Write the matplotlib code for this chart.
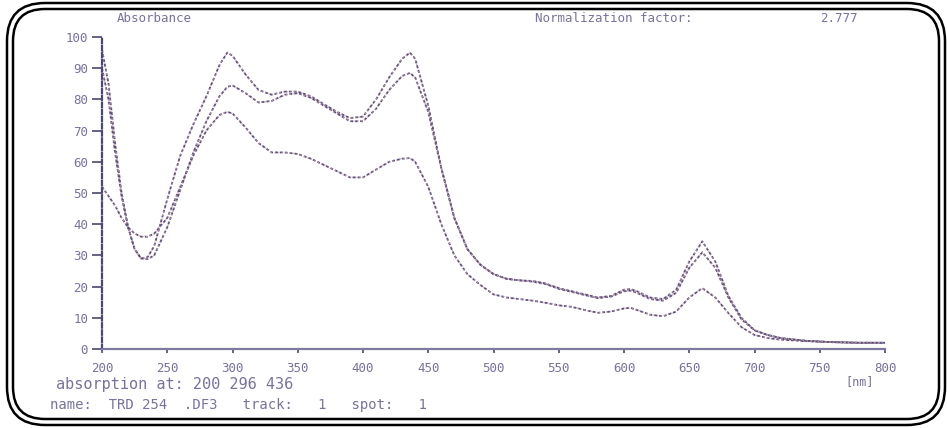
import matplotlib
matplotlib.use("Agg")
import matplotlib.pyplot as plt
from matplotlib.patches import FancyBboxPatch

# wavelength grid [nm]
wavelength = [200, 205, 210, 215, 220, 225, 230, 235, 240, 250, 260, 270, 280, 290,
              296, 300, 310, 320, 330, 340, 350, 360, 370, 380, 390, 400, 410, 420,
              430, 436, 440, 450, 460, 470, 480, 490, 500, 510, 520, 530, 540, 550,
              560, 570, 580, 590, 600, 605, 610, 620, 630, 640, 650, 660, 670, 680,
              690, 700, 710, 720, 740, 760, 780, 800]

track_a = [96, 85, 66, 50, 39, 32, 29, 29.5, 33, 48, 62, 72, 81, 91,
           95, 94, 88, 83, 81.5, 82.5, 82.5, 81, 78.5, 76, 74, 74.5, 80, 87,
           93, 95, 93, 78, 58, 42, 32, 27, 24, 22.5, 22, 21.8, 21, 19.5,
           18.5, 17.5, 16.5, 17, 19, 19.2, 18.5, 16.5, 16, 19, 28, 34.5, 28, 17,
           10, 6, 4.5, 3.5, 2.6, 2.2, 2, 2]

track_b = [90, 80, 63, 49, 39, 32, 29, 28.8, 30, 39, 51, 63, 73, 81,
           84, 84.5, 82, 79, 79.5, 81.5, 82, 80.5, 78, 75.5, 73, 73, 77, 83,
           87.5, 88.5, 87, 76, 58, 42, 32, 27, 24, 22.5, 22, 21.6, 20.8, 19.3,
           18.3, 17.3, 16.3, 16.8, 18.5, 18.7, 18, 16, 15.5, 18, 26, 31, 26, 16.5,
           9.5, 6, 4.5, 3.5, 2.6, 2.2, 2, 2]

track_c = [52, 49, 46, 42, 39, 37, 36, 36, 37, 42, 52, 62, 70, 75,
           76, 75.5, 71, 66, 63, 63, 62.5, 61, 59, 57, 55, 55, 57.5, 60,
           61, 61.2, 60, 52, 40, 30, 24, 20.5, 17.5, 16.5, 16, 15.5, 14.8, 14,
           13.5, 12.5, 11.6, 12, 13, 13.2, 12.5, 11, 10.5, 12, 16.5, 19.5, 16.5, 11.5,
           7, 4.5, 3.5, 3, 2.5, 2.2, 2, 2]

y_ticks = [0, 10, 20, 30, 40, 50, 60, 70, 80, 90, 100]
x_ticks = [200, 250, 300, 350, 400, 450, 500, 550, 600, 650, 700, 750, 800]

W, H = 947, 428
fig = plt.figure(figsize=(W / 100, H / 100), dpi=100)
fig.patch.set_facecolor("white")

txt = "#77739a"
mono = "DejaVu Sans Mono"

# spectrum axes
ax = fig.add_axes([102 / W, (H - 349) / H, 783 / W, 312 / H])
ax.set_xlim(200, 800)
ax.set_ylim(0, 100)
for spine in ("top", "right"):
    ax.spines[spine].set_visible(False)
ax.spines["left"].set_color("#4a4870")
ax.spines["left"].set_linestyle((0, (2, 1.2)))
ax.spines["left"].set_linewidth(1.6)
ax.spines["bottom"].set_color("#7d7aa0")
ax.spines["bottom"].set_linewidth(1.6)

ax.set_yticks(y_ticks)
ax.set_yticklabels([str(v) for v in y_ticks], family=mono, fontsize=9, color=txt)
ax.set_xticks(x_ticks)
ax.set_xticklabels([str(v) for v in x_ticks], family=mono, fontsize=9, color=txt)
ax.tick_params(axis="y", length=7, width=1.2, color="#4a4870", pad=3)
ax.tick_params(axis="x", length=3, width=1.2, color="#4a4870", pad=6)

for series in (track_c, track_b, track_a):
    ax.plot(wavelength, series, color="#55527a", lw=1.3, ls=(0, (1.6, 1.1)))
    ax.plot(wavelength, series, color="#cf97ab", lw=1.0, ls=(1.3, (1.0, 1.7)), alpha=0.8)

# page overlay in pixel units: frame and captions
over = fig.add_axes([0, 0, 1, 1], facecolor="none")
over.set_xlim(0, W)
over.set_ylim(H, 0)
over.axis("off")

for x0, y0, x1, y1, r in [(7, 3, 945, 425, 38), (13, 9, 939, 419, 32)]:
    over.add_patch(FancyBboxPatch((x0 + r, y0 + r), (x1 - x0) - 2 * r, (y1 - y0) - 2 * r,
                                  boxstyle=f"round,pad={r}", fill=False,
                                  ec="black", lw=1.8))

over.text(117, 18, "Absorbance", family=mono, fontsize=9, color=txt, va="center")
over.text(535, 18, "Normalization factor:", family=mono, fontsize=9, color=txt, va="center")
over.text(820, 18, "2.777", family=mono, fontsize=9, color=txt, va="center")
over.text(845, 382, "[nm]", family=mono, fontsize=8.5, color=txt, va="center")
over.text(56, 385, "absorption at: 200 296 436", family=mono, fontsize=11,
          color=txt, va="center")
over.text(50, 405, "name:  TRD 254  .DF3   track:   1   spot:   1", family=mono,
          fontsize=10, color=txt, va="center")

fig.savefig("out.png", dpi=100)
